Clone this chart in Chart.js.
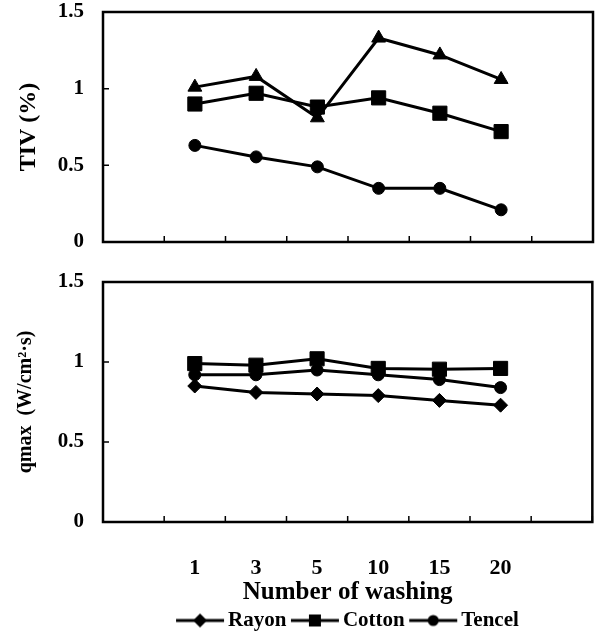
<!DOCTYPE html>
<html>
<head>
<meta charset="utf-8">
<script src="https://cdn.jsdelivr.net/npm/chart.js@4.4.1/dist/chart.umd.min.js"></script>
<style>
  html, body { margin: 0; padding: 0; background: #fff; }
  #wrap { position: relative; width: 597px; height: 641px; }
  #tivChart { position: absolute; left: 0; top: 0; }
  #qChart { position: absolute; left: 0; top: 270px; }
</style>
</head>
<body>
<div id="wrap">
  <canvas id="tivChart" width="597" height="256"></canvas>
  <canvas id="qChart" width="597" height="371"></canvas>
</div>
<script>
// Number of washing (blank slots left and right, like the original)
const washLabels = ['', '1', '3', '5', '10', '15', '20', ''];

// TIV (%)
const tivRayon  = [null, 1.01, 1.08, 0.81, 1.33, 1.22, 1.06, null];
const tivCotton = [null, 0.90, 0.97, 0.88, 0.94, 0.84, 0.72, null];
const tivTencel = [null, 0.63, 0.555, 0.49, 0.35, 0.35, 0.21, null];

// qmax (W/cm2.s)
const qRayon  = [null, 0.85, 0.81, 0.80, 0.79, 0.76, 0.73, null];
const qCotton = [null, 0.99, 0.98, 1.02, 0.96, 0.955, 0.96, null];
const qTencel = [null, 0.92, 0.92, 0.95, 0.92, 0.89, 0.84, null];

const yTicks = [0, 0.5, 1, 1.5];

const serif = "'Liberation Serif', 'Times New Roman', serif";

// box round the plot and small inward tick marks
const framePlugin = {
    id: 'frame',
    beforeDatasetsDraw(chart) {
        const { ctx, chartArea: a, scales } = chart;
        ctx.save();
        ctx.strokeStyle = '#000';
        ctx.lineWidth = 2.5;
        ctx.strokeRect(a.left, a.top, a.right - a.left, a.bottom - a.top);
        ctx.lineWidth = 1.5;
        ctx.beginPath();
        scales.y.ticks.forEach(t => {
            const y = scales.y.getPixelForValue(t.value);
            ctx.moveTo(a.left, y);
            ctx.lineTo(a.left + 6, y);
        });
        for (let i = 0; i <= washLabels.length; i++) {
            const x = scales.x.getPixelForValue(i - 0.5);
            ctx.moveTo(x, a.bottom);
            ctx.lineTo(x, a.bottom - 6);
        }
        ctx.stroke();
        ctx.restore();
    }
};

function series(label, data, style, radius) {
    return {
        label: label,
        data: data,
        borderColor: '#000',
        backgroundColor: '#000',
        borderWidth: 3,
        pointStyle: style,
        pointRadius: radius,
        pointBorderWidth: 1,
        pointBackgroundColor: '#000',
        pointBorderColor: '#000',
        tension: 0
    };
}

function yScale(title, titleSize) {
    return {
        min: 0,
        max: 1.5,
        afterBuildTicks: s => { s.ticks = yTicks.map(v => ({ value: v })); },
        afterFit: s => {
            s.width = 103;
            s.paddingTop = 0;
            s.paddingBottom = 0;
        },
        grid: { display: false, drawTicks: false },
        border: { display: false },
        ticks: {
            color: '#000',
            padding: 19,
            font: { family: serif, size: 21, weight: 'bold', lineHeight: 1 },
            callback: v => String(v)
        },
        title: {
            display: true,
            text: title,
            color: '#000',
            padding: { top: 14, bottom: 0 },
            font: { family: serif, size: titleSize, weight: 'bold', lineHeight: 1.2 }
        }
    };
}

// legend sample: a short line with the marker in the middle
function legendMark(shape) {
    const c = document.createElement('canvas');
    c.width = 56;
    c.height = 16;
    const g = c.getContext('2d');
    g.fillStyle = '#000';
    g.strokeStyle = '#000';
    g.lineWidth = 3;
    g.beginPath();
    g.moveTo(7, 8);
    g.lineTo(55, 8);
    g.stroke();
    g.beginPath();
    if (shape === 'diamond') {
        g.moveTo(31, 1); g.lineTo(38, 8); g.lineTo(31, 15); g.lineTo(24, 8);
    } else if (shape === 'square') {
        g.rect(25, 2, 12, 12);
    } else {
        g.arc(31, 8, 5.5, 0, Math.PI * 2);
    }
    g.closePath();
    g.fill();
    return c;
}

const legendMarks = [legendMark('diamond'), legendMark('square'), legendMark('circle')];

new Chart(document.getElementById('tivChart'), {
    type: 'line',
    data: {
        labels: washLabels,
        datasets: [
            series('Rayon', tivRayon, 'triangle', 8),
            series('Cotton', tivCotton, 'rect', 10),
            series('Tencel', tivTencel, 'circle', 6)
        ]
    },
    options: {
        responsive: false,
        animation: false,
        layout: { autoPadding: false, padding: { top: 12, right: 4, bottom: 14, left: 0 } },
        plugins: { legend: { display: false }, tooltip: { enabled: false } },
        scales: {
            x: {
                offset: true,
                grid: { display: false, drawTicks: false },
                border: { display: false },
                ticks: { display: false },
                afterFit: s => { s.height = 0; }
            },
            y: yScale('TIV (%)', 24)
        }
    },
    plugins: [framePlugin]
});

new Chart(document.getElementById('qChart'), {
    type: 'line',
    data: {
        labels: washLabels,
        datasets: [
            series('Rayon', qRayon, 'rectRot', 7),
            series('Cotton', qCotton, 'rect', 10),
            series('Tencel', qTencel, 'circle', 6)
        ]
    },
    options: {
        responsive: false,
        animation: false,
        layout: { autoPadding: false, padding: { top: 12, right: 4, bottom: 0, left: 0 } },
        plugins: {
            tooltip: { enabled: false },
            legend: {
                position: 'bottom',
                fullSize: false,
                labels: {
                    usePointStyle: true,
                    pointStyleWidth: 41,
                    padding: 5,
                    color: '#000',
                    font: { family: serif, size: 21, weight: 'bold', lineHeight: 1 },
                    generateLabels: chart => chart.data.datasets.map((ds, i) => ({
                        text: ds.label,
                        pointStyle: legendMarks[i],
                        fillStyle: '#000',
                        strokeStyle: '#000',
                        lineWidth: 0,
                        fontColor: '#000',
                        datasetIndex: i,
                        hidden: false
                    }))
                }
            }
        },
        scales: {
            x: {
                offset: true,
                grid: { display: false, drawTicks: false },
                border: { display: false },
                afterFit: s => { s.height = 83; },
                ticks: {
                    color: '#000',
                    padding: 35,
                    autoSkip: false,
                    maxRotation: 0,
                    font: { family: serif, size: 22, weight: 'bold', lineHeight: 1 }
                },
                title: {
                    display: true,
                    text: 'Number of washing',
                    color: '#000',
                    padding: { top: 0, bottom: 0 },
                    font: { family: serif, size: 25, weight: 'bold', lineHeight: 1 }
                }
            },
            y: yScale('qmax  (W/cm²·s)', 20)
        }
    },
    plugins: [framePlugin]
});
</script>
</body>
</html>
